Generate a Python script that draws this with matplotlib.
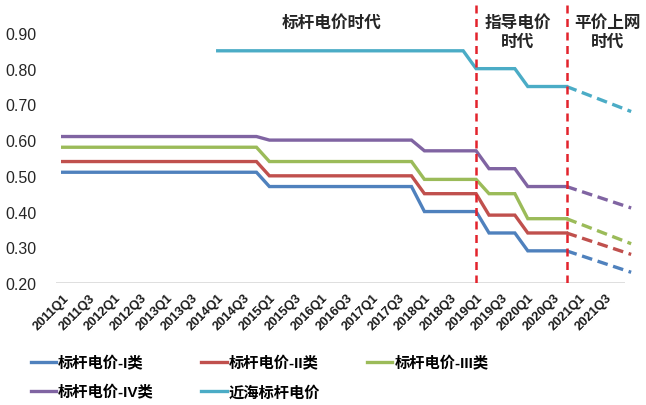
import matplotlib
matplotlib.use("Agg")
import matplotlib.pyplot as plt
import numpy as np

plt.rcParams["font.family"] = ["Liberation Sans", "Noto Sans CJK SC"]

# Quarterly category axis (2011Q1 .. 2021Q4)
quarters = [f"{y}Q{q}" for y in range(2011, 2022) for q in (1, 2, 3, 4)]

# Onshore benchmark tariff periods: number of quarters each level applied
onshore_period_len = [16, 12, 5, 3, 4]      # 2011Q1-2014Q4, 2015Q1-2017Q4, 2018Q1-2019Q1, 2019Q2-2019Q4, 2020Q1-2020Q4
class_I = [0.51, 0.47, 0.40, 0.34, 0.29]
class_II = [0.54, 0.50, 0.45, 0.39, 0.34]
class_III = [0.58, 0.54, 0.49, 0.45, 0.38]
class_IV = [0.61, 0.60, 0.57, 0.52, 0.47]

# Offshore benchmark tariff, starting 2014Q1
offshore_start = "2014Q1"
offshore_period_len = [20, 4, 4]            # 2014Q1-2018Q4, 2019Q1-2019Q4, 2020Q1-2020Q4
offshore = [0.85, 0.80, 0.75]

# Grid-parity outlook: end values at 2022Q1
outlook_end_index = 44
outlook_end = {"I": 0.23, "II": 0.28, "III": 0.31, "IV": 0.41, "offshore": 0.68}

# Policy era boundaries
era_bounds = ["2019Q1", "2020Q4"]

names = ["标杆电价-I类", "标杆电价-II类", "标杆电价-III类", "标杆电价-IV类", "近海标杆电价"]
colors = ["#4F81BD", "#C0504D", "#9BBB59", "#8064A2", "#4BACC6"]
keys = ["I", "II", "III", "IV", "offshore"]

series = []
for levels in (class_I, class_II, class_III, class_IV):
    y = np.repeat(levels, onshore_period_len)
    series.append((np.arange(len(y)), y))
off_y = np.repeat(offshore, offshore_period_len)
off_x = quarters.index(offshore_start) + np.arange(len(off_y))
series.append((off_x, off_y))

fig = plt.figure(figsize=(6.46, 4.06), dpi=100)
ax = fig.add_axes([0.0870, 0.3005, 0.8980, 0.6872])

handles = []
lw = 2.4
for (x, y), c, name, k in zip(series, colors, names, keys):
    h, = ax.plot(x, y, color=c, lw=lw, solid_joinstyle="miter", label=name, zorder=3)
    handles.append(h)
    ax.plot([x[-1], outlook_end_index], [y[-1], outlook_end[k]], color=c, lw=lw,
            dashes=(3.2, 1.7), zorder=3)

for q in era_bounds:
    ax.axvline(quarters.index(q), color="#E3232C", lw=1.8, dashes=(3.2, 2.2), zorder=4)

# Category baseline
ax.hlines(0.2, -0.5, len(quarters) - 0.5, color="#D9D9D9", lw=1.2, zorder=1)

ax.set_xlim(-0.5, 44.4)
ax.set_ylim(0.2, 0.981)
ax.set_yticks(np.arange(0.2, 0.91, 0.1))
ax.set_yticklabels([f"{v:.2f}" for v in np.arange(0.2, 0.91, 0.1)], fontsize=11.5, color="#262626")
ax.set_xticks(range(0, len(quarters), 2))
ax.set_xticklabels(quarters[::2], rotation=45, ha="right", rotation_mode="anchor",
                   fontsize=9.3, fontweight="bold", color="#1a1a1a")
ax.tick_params(axis="y", length=0, pad=14)
ax.tick_params(axis="x", length=0, pad=6)
for s in ax.spines.values():
    s.set_visible(False)

era_kw = dict(ha="center", va="center", fontsize=12, fontweight="bold", color="#262626")
ax.text(20.8, 0.931, "标杆电价时代", **era_kw)
ax.text(35.2, 0.904, "指导电价\n时代", linespacing=1.25, **era_kw)
ax.text(42.2, 0.904, "平价上网\n时代", linespacing=1.25, **era_kw)

order = [0, 3, 1, 4, 2]
fig.legend([handles[i] for i in order], [names[i] for i in order],
           loc="center left", bbox_to_anchor=(0.027, 0.068), ncol=3, frameon=False,
           prop={"size": 11, "weight": "bold"}, handlelength=1.65, handletextpad=0.12,
           columnspacing=3.1, labelspacing=0.95)

fig.savefig("out.png", dpi=100)
